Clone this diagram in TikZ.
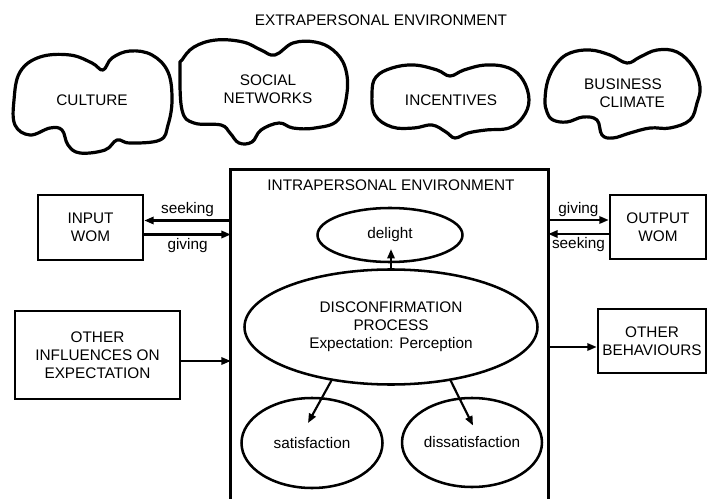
\documentclass[tikz,border=0pt]{standalone}
\usepackage{fontspec}
\setmainfont{Liberation Sans}
\usetikzlibrary{shapes.geometric,arrows.meta,calc}
\def\pu{0.75pt}
\begin{document}
\begin{tikzpicture}[x=0.75pt,y=-0.75pt,
  every node/.style={font=\fontsize{11.5}{13.5}\selectfont, align=center, inner sep=1pt},
  cloudline/.style={line width=2.4pt, line join=round},
  boxnode/.style={draw, line width=2pt, rectangle},
  ellnode/.style={draw, line width=1.9pt, ellipse},
  arr/.style={-{Triangle[length=7pt,width=5.5pt]}, line width=1.6pt},
  lbl/.style={inner sep=2pt}]
\useasboundingbox (0,0) rectangle (707,499);

% title
\node (extra) at (381,20) {EXTRAPERSONAL ENVIRONMENT};

% clouds
\draw[cloudline] plot[smooth cycle, tension=0.65] coordinates {
 (14,100) (20,72) (40,57) (70,55) (92,63) (103,70) (112,58) (130,51) (152,55)
 (168,72) (172,100) (168,125) (160,140) (130,143) (117,140) (105,150) (80,153)
 (68,145) (62,130) (50,128) (30,135) (15,125)};
\node (culture) at (92,100) {CULTURE};

\draw[cloudline] plot[smooth cycle, tension=0.65] coordinates {
 (180,67) (182,110) (194,123) (221,125) (230,133) (239,143) (252,142) (261,130)
 (279,123) (293,128) (315,128) (338,120) (347,93) (345,67) (333,50) (315,42)
 (293,43) (275,55) (261,50) (243,42) (216,40) (194,47) (182,60)};
\node (social) at (268,89) {SOCIAL\\NETWORKS};

\draw[cloudline] plot[smooth cycle, tension=0.65] coordinates {
 (372,93) (376,77) (392,68) (414,65) (437,70) (450,76) (464,70) (486,65) (509,68)
 (523,80) (529,100) (523,117) (509,128) (486,130) (468,133) (455,138) (446,132)
 (432,125) (414,128) (392,127) (375,115)};
\node (incent) at (451,100) {INCENTIVES};

\draw[cloudline] plot[smooth cycle, tension=0.65] coordinates {
 (545,100) (548,80) (557,63) (570,53) (590,50) (610,55) (627,63) (640,57)
 (657,50) (677,52) (693,67) (700,87) (697,103) (690,120) (670,128) (650,128)
 (630,133) (613,138) (602,135) (597,120) (583,117) (567,122) (553,120) (547,112)};
\node (business) at (623,93) {BUSINESS\\\hspace*{1.2em}CLIMATE};

% intrapersonal environment
\node[minimum width=317*\pu, minimum height=337*\pu] (intra) at (389.5,338.5) {};
\draw[line width=2.2pt] (intra.south west) -- (intra.north west) -- (intra.north east) -- (intra.south east);
\node (intratitle) at (391,185) {INTRAPERSONAL ENVIRONMENT};

% side boxes
\node[boxnode, minimum width=105*\pu, minimum height=65*\pu] (inwom) at (90.5,227.5) {INPUT\\WOM};
\node[boxnode, minimum width=96*\pu, minimum height=64*\pu] (outwom) at (658,227) {OUTPUT\\WOM};
\node[boxnode, minimum width=165*\pu, minimum height=88*\pu] (otherinf) at (97.5,355) {OTHER\\INFLUENCES ON\\EXPECTATION};
\node[boxnode, minimum width=108*\pu, minimum height=64*\pu] (otherbeh) at (652,341) {OTHER\\BEHAVIOURS};

% ellipses
\node[ellnode, minimum width=145*\pu, minimum height=54*\pu] (delight) at (390,235) {delight};
\node[ellnode, minimum width=293*\pu, minimum height=115*\pu] (disc) at (391,327) {DISCONFIRMATION\\PROCESS\\Expectation: Perception};
\node[ellnode, minimum width=141*\pu, minimum height=90*\pu] (sat) at (312,443) {satisfaction};
\node[ellnode, minimum width=130*\pu, minimum height=89*\pu] (dissat) at (472,442.5) {dissatisfaction};

% WOM arrows
\path (inwom.east) ++(0,-7) coordinate (ls);
\path (inwom.east) ++(0,7) coordinate (lg);
\draw[arr] (intra.west |- ls) -- node[lbl, above] {seeking} (ls);
\draw[arr] (lg) -- node[lbl, below] {giving} (intra.west |- lg);
\path (outwom.west) ++(0,-7) coordinate (rg);
\path (outwom.west) ++(0,7) coordinate (rs);
\draw[arr] (intra.east |- rg) -- node[lbl, above] {giving} (rg);
\draw[arr] (rs) -- node[lbl, below] {seeking} (intra.east |- rs);

% other arrows
\path (otherinf.east) ++(0,6) coordinate (oi);
\draw[arr] (oi) -- (intra.west |- oi);
\path (otherbeh.west) ++(0,6) coordinate (ob);
\draw[arr] (intra.east |- ob) -- (ob);

% internal arrows
\draw[arr] (disc.north) -- (disc.north |- {$(delight.center)!0.5!(delight.south)$});
\draw[arr] (disc.222) -- ($(sat.center)+(-4,-20)$);
\draw[arr] (disc.318) -- ($(dissat.center)+(1,-17)$);
\end{tikzpicture}
\end{document}
